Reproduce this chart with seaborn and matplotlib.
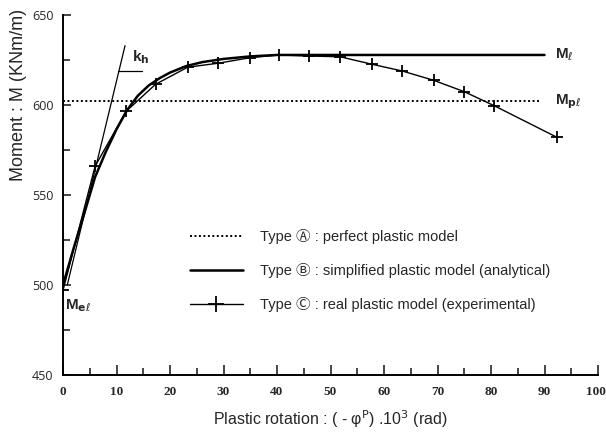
import matplotlib
matplotlib.use("Agg")
import matplotlib.pyplot as plt
from matplotlib.ticker import MultipleLocator
from matplotlib.lines import Line2D
from matplotlib.transforms import ScaledTranslation
import seaborn as sns
import pandas as pd

sns.set_theme(style="white")
plt.rcParams["font.family"] = ["Liberation Sans", "DejaVu Sans", "Noto Sans CJK JP"]
plt.rcParams["mathtext.fontset"] = "dejavusans"

# Type A: perfect plastic model (plastic moment level)
mpl_x = [0, 89.2]
mpl_m = [602, 602]

# Type B: simplified plastic model (analytical)
b_x = [0, 2, 4, 6, 8, 10, 12, 14, 16, 18, 20, 23, 26, 30, 35, 40, 45, 90]
b_m = [500, 520.5, 540, 560, 574, 586.5, 597.3, 605.2, 610.8, 614.8, 618.0,
       621.6, 623.8, 625.6, 627.0, 627.8, 627.8, 627.8]

# Type C: real plastic model (experimental)
c_x = [0, 6.0, 11.8, 17.3, 23.3, 29.0, 35.0, 40.4, 46.0, 51.8, 57.8, 63.4,
       69.3, 75.0, 80.6, 92.3]
c_m = [497, 566, 596.5, 611.5, 621, 623.2, 626.3, 627.8, 627.2, 626.8, 622.6,
       618.9, 613.7, 607.4, 599.6, 582.1]

# hardening stiffness k_h
kh_x = [0.8, 11.6]
kh_m = [500, 633]
kh_bar_x = [10.3, 14.8]
kh_bar_m = [619, 619]

legend_labels = [
    "Type \u24b6 : perfect plastic model",
    "Type \u24b7 : simplified plastic model (analytical)",
    "Type \u24b8 : real plastic model (experimental)",
]

fig = plt.figure(figsize=(6.06, 4.33), dpi=100)
ax = fig.add_axes([63 / 606, 1 - 375 / 433, 535 / 606, 360 / 433])

df_a = pd.DataFrame({"x": mpl_x, "m": mpl_m})
df_b = pd.DataFrame({"x": b_x, "m": b_m})
df_c = pd.DataFrame({"x": c_x, "m": c_m})

sns.lineplot(data=df_a, x="x", y="m", ax=ax, color="black", lw=1.4,
             linestyle=(0, (1, 1.3)), sort=False, legend=False)
sns.lineplot(data=df_b, x="x", y="m", ax=ax, color="black", lw=1.8,
             sort=False, legend=False)
sns.lineplot(data=df_c, x="x", y="m", ax=ax, color="black", lw=1.0,
             marker="+", markersize=9, markeredgewidth=1.3,
             markeredgecolor="black", sort=False, legend=False)
sns.lineplot(x=kh_x, y=kh_m, ax=ax, color="black", lw=0.9, sort=False,
             legend=False)
sns.lineplot(x=kh_bar_x, y=kh_bar_m, ax=ax, color="black", lw=0.9,
             sort=False, legend=False)

ax.text(12.9, 626.5, "k$_\\mathbf{h}$", fontsize=11, fontweight="bold",
        ha="left", va="center")
ax.text(92, 627.8, "M$_\\ell$", fontsize=11, fontweight="bold", ha="left",
        va="center")
ax.text(92, 602, "M$_{\\mathbf{p}\\ell}$", fontsize=11, fontweight="bold",
        ha="left", va="center")
ax.text(0.4, 488.5, "M$_{\\mathbf{e}\\ell}$", fontsize=11, fontweight="bold",
        ha="left", va="center")

ax.set_xlim(0, 100)
ax.set_ylim(450, 650)
ax.xaxis.set_major_locator(MultipleLocator(10))
ax.xaxis.set_minor_locator(MultipleLocator(5))
ax.yaxis.set_major_locator(MultipleLocator(50))
ax.yaxis.set_minor_locator(MultipleLocator(25))
ax.tick_params(axis="x", which="major", direction="in", length=7, width=1.2,
               pad=8, bottom=True)
ax.tick_params(axis="x", which="minor", direction="in", length=5, width=1.2,
               bottom=True)
ax.tick_params(axis="y", which="major", direction="in", length=6, width=1.2,
               pad=7, left=True)
ax.tick_params(axis="y", which="minor", direction="in", length=5, width=1.2,
               left=True)

for side in ["top", "right"]:
    ax.spines[side].set_visible(False)
for side in ["left", "bottom"]:
    ax.spines[side].set_color("black")
    ax.spines[side].set_linewidth(1.4)

ax.set_xlabel("Plastic rotation : ( - \u03c6$^{\\mathrm{P}}$) .10$^{3}$ (rad)",
              fontsize=11.5, labelpad=7)
ax.set_ylabel("Moment : M (KNm/m)", fontsize=13, va="center")
ax.yaxis.set_label_coords(-0.084, 0.778)

handles = [
    Line2D([], [], color="black", lw=1.4, linestyle=(0, (1, 1.3))),
    Line2D([], [], color="black", lw=1.8),
    Line2D([], [], color="black", lw=1.0, marker="+", markersize=12,
           markeredgewidth=1.3),
]
fig.legend(handles, legend_labels, loc="upper left",
           bbox_to_anchor=(190 / 606, 1 - 229 / 433),
           bbox_transform=fig.transFigure, frameon=False, fontsize=10.5,
           handlelength=3.6, handletextpad=1.2, labelspacing=1.3,
           borderpad=0, borderaxespad=0, markerscale=1.0)

fig.canvas.draw()
for lab in ax.get_xticklabels():
    lab.set_fontfamily("Liberation Serif")
    lab.set_fontweight("bold")
    lab.set_fontsize(9.5)
for lab in ax.get_yticklabels():
    lab.set_fontfamily("Open Sans")
    lab.set_fontsize(9)
# keep the "100" label inside the canvas
last = ax.xaxis.get_major_ticks()[-1].label1
for t in ax.xaxis.get_major_ticks():
    if abs(t.get_loc() - 100) < 1e-6:
        last = t.label1
last.set_transform(last.get_transform()
                   + ScaledTranslation(-2 / 100, 0, fig.dpi_scale_trans))

fig.savefig("out.png", dpi=100)
